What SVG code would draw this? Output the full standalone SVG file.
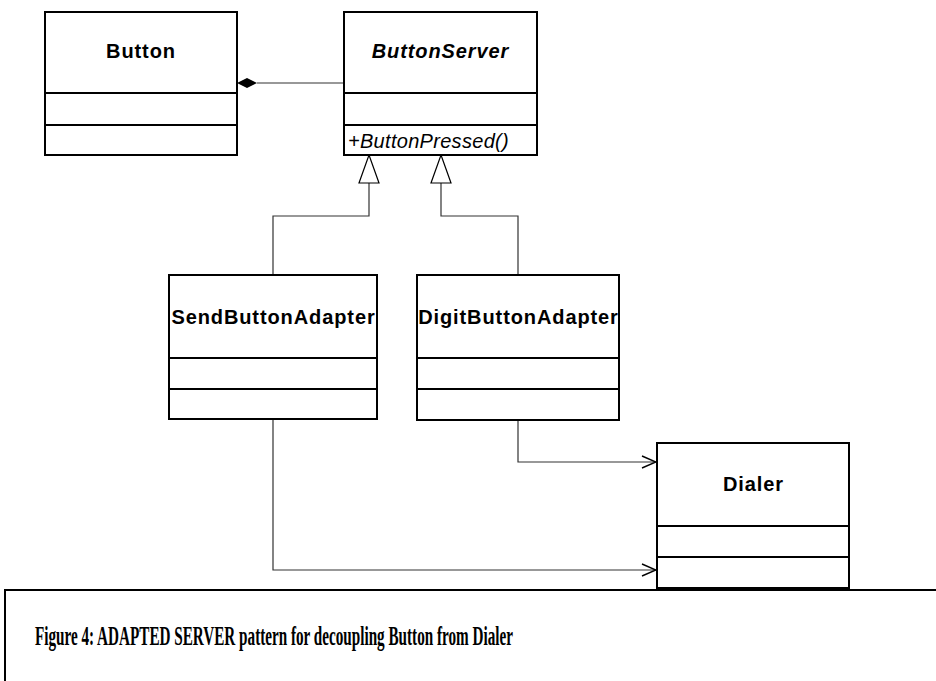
<svg xmlns="http://www.w3.org/2000/svg" width="936" height="681" viewBox="0 0 936 681">
  <style>
    .box { fill: #fff; stroke: #000; stroke-width: 2; }
    .div { stroke: #000; stroke-width: 2; }
    .name { font-family: "Liberation Sans", Arial, sans-serif; font-size: 20px; font-weight: bold; letter-spacing: 0.9px; text-anchor: middle; fill: #000; }
    .abstract { font-style: italic; }
    .op { font-family: "Liberation Sans", Arial, sans-serif; font-size: 20px; font-style: italic; letter-spacing: 0.3px; fill: #000; }
    .conn { fill: none; stroke: #333; stroke-width: 1.2; }
    .caption { font-family: "Liberation Serif", "Times New Roman", serif; font-size: 28px; font-weight: bold; fill: #000; }
  </style>
  <defs>
    <marker id="open" viewBox="0 0 16 14" refX="15" refY="7" markerWidth="16" markerHeight="14" markerUnits="userSpaceOnUse" orient="auto">
      <path d="M1 1 L15 7 L1 13" fill="none" stroke="#000" stroke-width="1.4"/>
    </marker>
  </defs>

  <rect width="936" height="681" fill="#fff"/>

  <g id="connectors">
    <!-- composition: Button owns ButtonServer -->
    <line class="conn" x1="257" y1="83" x2="344" y2="83"/>
    <path d="M237 83 L247 78 L257 83 L247 88 Z" fill="#000"/>
    <!-- generalizations -->
    <path class="conn" d="M273 275 V216 H369 V183"/>
    <path d="M369 155 L379 183 L359 183 Z" fill="#fff" stroke="#000" stroke-width="1.2"/>
    <path class="conn" d="M518 275 V216 H441 V183"/>
    <path d="M441 155 L451 183 L431 183 Z" fill="#fff" stroke="#000" stroke-width="1.2"/>
    <!-- dependencies on Dialer -->
    <path class="conn" d="M518 420 V462 H656" marker-end="url(#open)"/>
    <path class="conn" d="M273 420 V570 H656" marker-end="url(#open)"/>
  </g>

  <g id="Button">
    <rect class="box" x="45" y="12" width="192" height="143"/>
    <line class="div" x1="45" y1="93" x2="237" y2="93"/>
    <line class="div" x1="45" y1="125" x2="237" y2="125"/>
    <text class="name" x="141" y="58">Button</text>
  </g>

  <g id="ButtonServer">
    <rect class="box" x="344" y="12" width="193" height="143"/>
    <line class="div" x1="344" y1="93" x2="537" y2="93"/>
    <line class="div" x1="344" y1="125" x2="537" y2="125"/>
    <text class="name abstract" x="440.5" y="58">ButtonServer</text>
    <text class="op" x="348" y="148">+ButtonPressed()</text>
  </g>

  <g id="SendButtonAdapter">
    <rect class="box" x="169" y="275" width="208" height="144"/>
    <line class="div" x1="169" y1="358" x2="377" y2="358"/>
    <line class="div" x1="169" y1="389" x2="377" y2="389"/>
    <text class="name" x="273.5" y="324">SendButtonAdapter</text>
  </g>

  <g id="DigitButtonAdapter">
    <rect class="box" x="417" y="275" width="202" height="145"/>
    <line class="div" x1="417" y1="358" x2="619" y2="358"/>
    <line class="div" x1="417" y1="389" x2="619" y2="389"/>
    <text class="name" x="518.5" y="324">DigitButtonAdapter</text>
  </g>

  <g id="Dialer">
    <rect class="box" x="657" y="443" width="192" height="145"/>
    <line class="div" x1="657" y1="526" x2="849" y2="526"/>
    <line class="div" x1="657" y1="557" x2="849" y2="557"/>
    <text class="name" x="753.5" y="491">Dialer</text>
  </g>

  <g id="caption">
    <rect x="5" y="590" width="940" height="100" fill="#fff" stroke="#000" stroke-width="2"/>
    <text class="caption" x="35" y="645" textLength="478" lengthAdjust="spacingAndGlyphs">Figure 4: ADAPTED SERVER pattern for decoupling Button from Dialer</text>
  </g>
</svg>
